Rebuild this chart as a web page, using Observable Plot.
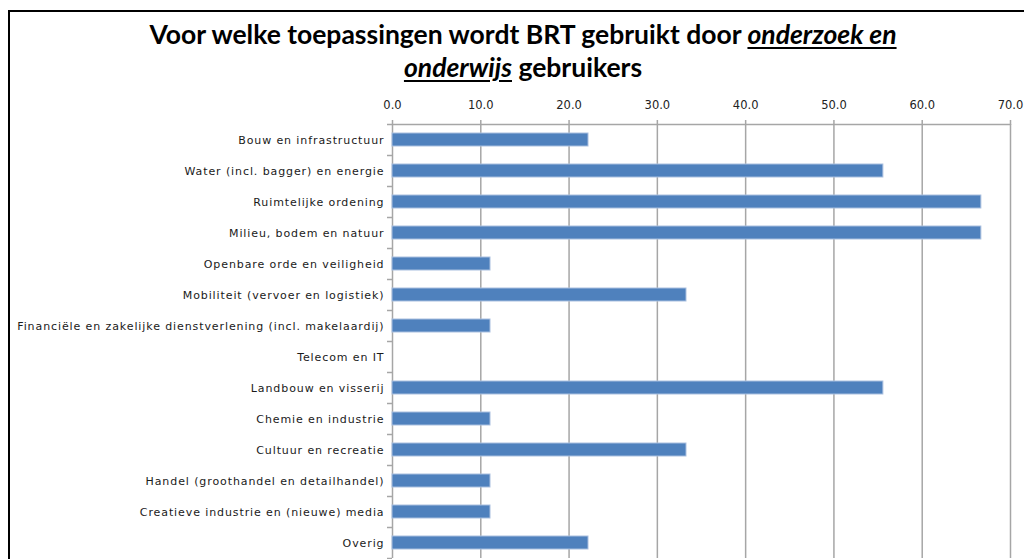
<!DOCTYPE html>
<html>
<head>
<meta charset="utf-8">
<script src="https://cdn.jsdelivr.net/npm/d3@7"></script>
<script src="https://cdn.jsdelivr.net/npm/@observablehq/plot@0.6"></script>
<style>
  html, body { margin: 0; padding: 0; background: #fff; width: 1024px; height: 559px; overflow: hidden; }
  #frame { position: absolute; left: 8px; top: 10px; width: 1100px; height: 600px;
           border-left: 2px solid #000; border-top: 2px solid #000; box-sizing: border-box; }
  #title { position: absolute; left: 73px; width: 900px; top: 18px; text-align: center;
           font-family: Lato, sans-serif; font-weight: 700; font-size: 26.5px; line-height: 33px; color: #000; }
  #title em { text-decoration: underline; text-decoration-thickness: 2px; text-underline-offset: 3px; }
  #chart { position: absolute; left: 0; top: 0; }
  #chart g[aria-label="y-axis tick label"] text { letter-spacing: 0.9px; }
</style>
</head>
<body>
<div id="frame"></div>
<div id="title">Voor welke toepassingen wordt BRT gebruikt door <em>onderzoek en</em><br><em>onderwijs</em> gebruikers</div>
<div id="chart"></div>
<script>
const categories = [
  "Bouw en infrastructuur",
  "Water (incl. bagger) en energie",
  "Ruimtelijke ordening",
  "Milieu, bodem en natuur",
  "Openbare orde en veiligheid",
  "Mobiliteit (vervoer en logistiek)",
  "Financiële en zakelijke dienstverlening (incl. makelaardij)",
  "Telecom en IT",
  "Landbouw en visserij",
  "Chemie en industrie",
  "Cultuur en recreatie",
  "Handel (groothandel en detailhandel)",
  "Creatieve industrie en (nieuwe) media",
  "Overig"
];
const values = [22.2, 55.6, 66.7, 66.7, 11.1, 33.3, 11.1, 0, 55.6, 11.1, 33.3, 11.1, 11.1, 22.2];
const xTicks = [0, 10, 20, 30, 40, 50, 60, 70];

const data = categories.map((c, i) => ({cat: c, value: values[i]}));
const grey = "#a6a6a6";

const chart = Plot.plot({
  width: 1024,
  height: 559,
  marginTop: 124,
  marginBottom: 1,
  marginLeft: 392,
  marginRight: 14,
  style: {background: "transparent", fontFamily: "'DejaVu Sans', sans-serif", fontSize: "11px", color: "#222"},
  x: {domain: [0, 70], axis: null},
  y: {domain: categories, padding: 0, axis: null},
  marks: [
    Plot.gridX(xTicks, {stroke: grey, strokeOpacity: 1, strokeWidth: 1.5}),
    Plot.barX(data, {x: "value", y: "cat", fill: "#4f81bd", stroke: "#a9bfdf", strokeWidth: 1,
                     insetTop: 9, insetBottom: 9, filter: d => d.value > 0}),
    Plot.ruleY([categories[0]], {x1: 0, x2: 70, dy: -15.5, stroke: grey, strokeWidth: 1.5}),
    Plot.ruleY(categories, {x1: 0, x2: 0, insetLeft: -5, dy: 15.5, stroke: grey, strokeWidth: 1.5}),
    Plot.ruleY([categories[0]], {x1: 0, x2: 0, insetLeft: -5, dy: -15.5, stroke: grey, strokeWidth: 1.5}),
    Plot.axisX(xTicks, {anchor: "top", label: null, tickSize: 5, tickPadding: 11, stroke: grey, strokeWidth: 1.5, fill: "#222",
                        tickFormat: d => d.toFixed(1), fontSize: 11.5}),
    Plot.axisY({label: null, tickSize: 0, tickPadding: 8, fill: "#1a1a1a", fontSize: 11})
  ]
});
document.getElementById("chart").appendChild(chart);
</script>
</body>
</html>
